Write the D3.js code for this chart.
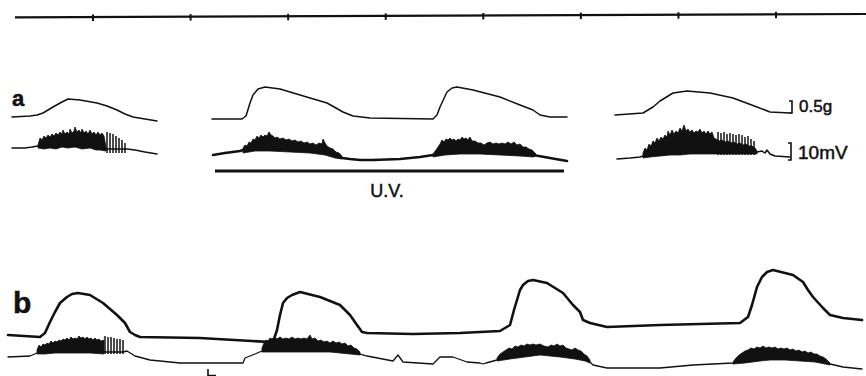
<!DOCTYPE html>
<html>
<head>
<meta charset="utf-8">
<script src="https://cdn.jsdelivr.net/npm/d3@7"></script>
<style>
  body { margin: 0; background: #fff; }
  svg { display: block; }
  text { font-family: "Liberation Sans", Arial, sans-serif; fill: #111; stroke: #111; stroke-width: 0.5; }
</style>
</head>
<body>
<div id="chart"></div>
<script>
// time marker ticks, one per second
const timeTicks = [1, 2, 3, 4, 5, 6, 7, 8];
const eventMarks = [208];

// digitised traces: [sample, deflection]
// row a, force (tension)
const forceA = [
    [[12, 8], [30, 9], [37, 10], [43, 12], [53, 18], [62, 23], [68, 26], [80, 25], [97, 22], [107, 19], [117, 15], [125, 11], [133, 8], [145, 6], [157, 4]],
    [[212, 6], [242, 6], [246, 9], [250, 22], [253, 30], [258, 36], [265, 38], [280, 36], [300, 30], [327, 22], [343, 13], [353, 9], [370, 7], [433, 6], [437, 10], [440, 18], [447, 33], [452, 37], [457, 38], [473, 35], [500, 28], [520, 20], [533, 15], [540, 10], [550, 8], [567, 8]],
    [[615, 10], [643, 12], [653, 18], [660, 24], [673, 32], [687, 34], [710, 32], [733, 27], [757, 18], [770, 13], [790, 12]]
];

// row a, EMG slow line
const emgA = [
    [[12, 17], [25, 17], [32, 18], [38, 19], [50, 19], [60, 20], [75, 20], [90, 19], [100, 17], [107, 16], [115, 16], [127, 16], [135, 15], [145, 13], [157, 11]],
    [[213, 10], [225, 12], [240, 14], [243, 15], [255, 16], [270, 16], [290, 15], [310, 14], [325, 12], [335, 9], [342, 7], [350, 6], [360, 5], [373, 5], [400, 6], [420, 8], [433, 10], [445, 12], [460, 13], [480, 13], [500, 12], [520, 11], [533, 10], [550, 7], [567, 4]],
    [[617, 6], [630, 7], [640, 8], [643, 9], [660, 10], [680, 12], [700, 13], [720, 13], [740, 13], [757, 13], [762, 14], [765, 12], [767, 15], [770, 11], [775, 9], [790, 8]]
];
const emgAWidths = [1.5, 2.6, 1.5];

// row a, EMG bursts (upper / lower envelope)
const burstsA = [
    {top: [[38, 20], [40, 27], [42, 25], [44, 29], [46, 27], [48, 30], [50, 28], [52, 31], [54, 29], [56, 32], [58, 30], [60, 33], [62, 31], [63, 35], [65, 31], [67, 33], [69, 31], [70, 36], [72, 32], [74, 34], [75, 38], [77, 33], [79, 35], [81, 32], [82, 36], [84, 32], [86, 34], [88, 31], [90, 35], [92, 31], [94, 33], [96, 30], [98, 33], [100, 30], [102, 32], [104, 29], [106, 18]],
     bottom: [[38, 17], [44, 16], [50, 17], [56, 16], [62, 18], [68, 17], [75, 18], [82, 16], [90, 17], [96, 15], [100, 15], [106, 14]]},
    {top: [[243, 17], [245, 20], [247, 19], [249, 23], [251, 22], [253, 26], [255, 25], [257, 29], [259, 27], [261, 30], [263, 28], [265, 30], [267, 29], [269, 33], [271, 30], [273, 29], [275, 27], [277, 28], [280, 26], [283, 27], [286, 25], [289, 26], [292, 24], [295, 25], [298, 23], [301, 24], [304, 22], [307, 23], [310, 21], [313, 22], [316, 20], [319, 22], [322, 21], [323, 26], [325, 22], [327, 19], [330, 17], [333, 16], [336, 13], [339, 12], [342, 9]],
     bottom: [[243, 12], [255, 14], [270, 14], [290, 13], [310, 12], [325, 10], [335, 7], [342, 6]]},
    {top: [[433, 11], [436, 15], [438, 18], [440, 21], [442, 25], [444, 23], [446, 26], [448, 25], [450, 27], [452, 25], [454, 26], [456, 24], [458, 26], [460, 25], [462, 28], [464, 26], [466, 27], [468, 25], [470, 28], [472, 24], [475, 24], [478, 22], [481, 22], [484, 20], [487, 22], [490, 23], [493, 21], [496, 22], [499, 21], [502, 22], [505, 21], [508, 23], [511, 21], [514, 23], [517, 20], [520, 21], [523, 18], [526, 18], [529, 16], [532, 15], [534, 13], [536, 11]],
     bottom: [[433, 8], [445, 10], [460, 11], [480, 11], [500, 10], [520, 9], [533, 8], [536, 9]]},
    {top: [[643, 12], [645, 17], [647, 15], [649, 21], [651, 19], [653, 24], [655, 22], [657, 27], [659, 24], [661, 28], [663, 26], [665, 30], [667, 28], [668, 34], [670, 30], [672, 35], [674, 31], [676, 34], [678, 32], [680, 37], [682, 34], [684, 40], [686, 34], [688, 36], [690, 33], [692, 35], [694, 32], [696, 34], [698, 33], [700, 36], [702, 32], [704, 34], [706, 31], [708, 34], [710, 31], [712, 33], [714, 27], [716, 26], [719, 24], [722, 25], [725, 23], [728, 24], [731, 22], [734, 23], [737, 21], [740, 22], [743, 20], [746, 21], [749, 19], [752, 19], [755, 17], [757, 14]],
     bottom: [[643, 7], [650, 8], [660, 9], [670, 10], [680, 10], [690, 11], [700, 11], [720, 11], [740, 11], [757, 11]]}
];

// row a, single spikes: [sample, low, high]
const spikesA = [
    [107, 12, 33], [110, 12, 32], [113, 12, 31], [116, 12, 29], [119, 12, 27], [122, 12, 25], [125, 12, 22],
    [718, 10, 33], [721, 10, 32], [724, 10, 33], [727, 10, 31], [730, 10, 32], [733, 10, 31], [736, 10, 30],
    [739, 10, 31], [742, 10, 30], [745, 10, 28], [748, 10, 29], [751, 10, 26], [754, 10, 24]
];

// row b, force
const forceB = [[8, 10], [40, 8], [45, 12], [50, 23], [55, 33], [60, 42], [67, 48], [72, 51], [78, 52], [90, 50], [103, 42], [117, 30], [125, 22], [130, 13], [135, 10], [140, 8], [200, 7], [270, 3], [274, 6], [277, 15], [280, 30], [283, 42], [287, 47], [292, 50], [300, 53], [320, 48], [340, 40], [350, 30], [357, 20], [362, 13], [367, 12], [413, 11], [460, 12], [500, 14], [510, 20], [514, 35], [517, 45], [520, 55], [523, 60], [528, 64], [533, 65], [547, 62], [563, 52], [573, 40], [580, 33], [583, 25], [590, 22], [607, 18], [660, 20], [740, 22], [748, 28], [752, 40], [757, 58], [762, 68], [767, 73], [773, 75], [793, 70], [803, 63], [808, 55], [813, 48], [823, 37], [830, 30], [843, 27], [862, 25]];

// row b, EMG slow line
const emgB = [[8, 15], [30, 16], [37, 19], [50, 20], [70, 21], [90, 21], [105, 20], [123, 20], [127, 21], [135, 16], [150, 12], [180, 9], [243, 9], [245, 14], [255, 18], [262, 21], [270, 22], [290, 22], [310, 22], [330, 22], [350, 20], [360, 18], [367, 16], [393, 11], [398, 17], [403, 10], [433, 8], [440, 15], [453, 15], [467, 10], [480, 9], [483, 8], [486, 9], [497, 12], [510, 15], [540, 19], [560, 17], [575, 15], [585, 13], [590, 10], [593, 7], [607, 4], [660, 4], [693, 7], [733, 9], [745, 11], [770, 14], [800, 13], [820, 11], [830, 8], [843, 5], [862, 3]];

const burstsB = [
    {top: [[37, 22], [39, 27], [41, 25], [43, 28], [45, 27], [47, 29], [49, 28], [51, 31], [53, 29], [55, 31], [57, 30], [59, 32], [61, 31], [63, 33], [65, 32], [67, 34], [69, 32], [71, 35], [73, 33], [75, 34], [77, 33], [79, 36], [81, 34], [83, 35], [85, 33], [87, 35], [89, 33], [91, 34], [93, 32], [95, 34], [97, 32], [99, 33], [101, 31], [104, 32]],
     bottom: [[37, 18], [45, 18], [55, 19], [70, 19], [90, 19], [104, 18]]},
    {top: [[262, 24], [264, 29], [266, 32], [268, 31], [270, 34], [272, 33], [275, 35], [277, 33], [280, 35], [283, 33], [286, 34], [289, 33], [292, 35], [295, 33], [298, 34], [301, 33], [304, 34], [307, 33], [310, 37], [312, 33], [315, 34], [318, 31], [321, 32], [324, 30], [327, 31], [330, 29], [333, 31], [336, 29], [339, 30], [342, 28], [345, 29], [348, 26], [351, 27], [354, 24], [357, 23], [360, 20]],
     bottom: [[262, 20], [270, 20], [290, 20], [310, 20], [330, 20], [350, 18], [360, 17]]},
    {top: [[497, 14], [500, 18], [503, 20], [506, 22], [509, 24], [512, 23], [515, 26], [518, 25], [521, 27], [524, 26], [527, 28], [530, 27], [533, 28], [536, 27], [540, 28], [544, 26], [548, 25], [551, 27], [554, 26], [557, 28], [560, 26], [563, 27], [566, 24], [569, 23], [572, 22], [575, 24], [578, 22], [581, 21], [584, 18], [587, 16], [590, 12]],
     bottom: [[497, 11], [510, 13], [525, 15], [540, 17], [560, 15], [575, 13], [585, 11], [590, 9]]},
    {top: [[733, 10], [736, 14], [739, 17], [742, 19], [745, 21], [748, 22], [751, 24], [754, 23], [757, 25], [760, 24], [763, 26], [766, 24], [769, 25], [772, 24], [775, 25], [778, 23], [781, 24], [784, 23], [787, 24], [790, 22], [793, 23], [796, 21], [799, 22], [802, 20], [805, 21], [808, 19], [811, 20], [814, 18], [817, 18], [820, 16], [823, 15], [826, 13], [830, 9]],
     bottom: [[733, 8], [745, 9], [760, 11], [770, 12], [785, 12], [800, 11], [815, 10], [830, 7]]}
];

const spikesB = [[105, 18, 36], [108, 18, 35], [111, 18, 35], [114, 18, 34], [117, 18, 33], [120, 18, 33], [123, 18, 32]];

// calibration bars
const forceCal = {value: 0.5, label: "0.5g"};
const emgCal = {value: 10, label: "10mV"};

// ------------------------------------------------------------
const width = 866, height = 376;

const svg = d3.select("#chart")
    .append("svg")
    .attr("width", width)
    .attr("height", height);

svg.append("rect").attr("width", width).attr("height", height).attr("fill", "#fff");

// sample index -> px
const x = d3.scaleLinear().domain([0, 866]).range([0, width]);
// seconds -> px for the time marker line
const tScale = d3.scaleLinear().domain([1, 8]).range([93, 776]);
const timeLineY = d3.scaleLinear().domain([15, 866]).range([17.3, 14]);

// vertical scales, one per trace (deflection upward from the trace's zero)
const yForceA = d3.scaleLinear().domain([0, 100]).range([125, 25]);
const yEmgA = d3.scaleLinear().domain([0, 100]).range([165, 65]);
const yForceB = d3.scaleLinear().domain([0, 100]).range([345, 245]);
const yEmgB = d3.scaleLinear().domain([0, 100]).range([372, 272]);

const ink = "#111";

function drawLine(pts, y, w) {
    const line = d3.line().x(d => x(d[0])).y(d => y(d[1]));
    svg.append("path")
        .datum(pts)
        .attr("d", line)
        .attr("fill", "none")
        .attr("stroke", ink)
        .attr("stroke-width", w)
        .attr("stroke-linejoin", "round")
        .attr("stroke-linecap", "round");
}

function drawBurst(b, y) {
    const line = d3.line().x(d => x(d[0])).y(d => y(d[1]));
    svg.append("path")
        .datum(b.top.concat(b.bottom.slice().reverse()))
        .attr("d", d => line(d) + "Z")
        .attr("fill", ink)
        .attr("stroke", ink)
        .attr("stroke-width", 0.8)
        .attr("stroke-linejoin", "miter");
}

function drawSpikes(spikes, y) {
    svg.selectAll(null)
        .data(spikes)
        .enter()
        .append("line")
        .attr("x1", d => x(d[0]))
        .attr("x2", d => x(d[0]))
        .attr("y1", d => y(d[1]))
        .attr("y2", d => y(d[2]))
        .attr("stroke", ink)
        .attr("stroke-width", 1.5);
}

// time marker line
svg.append("line")
    .attr("x1", 15).attr("y1", timeLineY(15))
    .attr("x2", 866).attr("y2", timeLineY(866))
    .attr("stroke", ink)
    .attr("stroke-width", 2.2);

svg.selectAll(".tick")
    .data(timeTicks)
    .enter()
    .append("line")
    .attr("class", "tick")
    .attr("x1", d => tScale(d))
    .attr("x2", d => tScale(d))
    .attr("y1", d => timeLineY(tScale(d)) - 2.5)
    .attr("y2", d => timeLineY(tScale(d)) + 4)
    .attr("stroke", ink)
    .attr("stroke-width", 2);

// row a
forceA.forEach(seg => drawLine(seg, yForceA, 1.5));
burstsA.forEach(b => drawBurst(b, yEmgA));
emgA.forEach((seg, i) => drawLine(seg, yEmgA, emgAWidths[i]));
drawSpikes(spikesA, yEmgA);

// row b
drawLine(forceB, yForceB, 2.6);
burstsB.forEach(b => drawBurst(b, yEmgB));
drawLine(emgB, yEmgB, 1.3);
drawSpikes(spikesB, yEmgB);

// event marker
eventMarks.forEach(m => {
    svg.append("path")
        .attr("d", `M${x(m)},369 V375.5 H${x(m) + 8}`)
        .attr("fill", "none")
        .attr("stroke", ink)
        .attr("stroke-width", 1.6);
});

// U.V. bar
svg.append("line")
    .attr("x1", x(215)).attr("x2", x(564))
    .attr("y1", 171).attr("y2", 171)
    .attr("stroke", ink)
    .attr("stroke-width", 3);

svg.append("text")
    .attr("x", x(387)).attr("y", 197)
    .attr("text-anchor", "middle")
    .attr("font-size", 18)
    .text("U.V.");

// calibration brackets (0.5 g = 12 px, 10 mV = 17 px)
function calBar(xb, yTop, h, label, size) {
    svg.append("path")
        .attr("d", `M${xb - 3},${yTop} H${xb} V${yTop + h} H${xb - 3}`)
        .attr("fill", "none")
        .attr("stroke", ink)
        .attr("stroke-width", 1.6);
    svg.append("text")
        .attr("x", xb + 7)
        .attr("y", yTop + h - 1)
        .attr("font-size", size)
        .text(label);
}
calBar(792, 101, 12, forceCal.label, 17);
calBar(791, 143, 17, emgCal.label, 19);

// row labels
svg.append("text").attr("x", 12).attr("y", 106)
    .attr("font-size", 22).attr("font-weight", "bold").text("a");
svg.append("text").attr("x", 13).attr("y", 313)
    .attr("font-size", 30).attr("font-weight", "bold").text("b");
</script>
</body>
</html>
